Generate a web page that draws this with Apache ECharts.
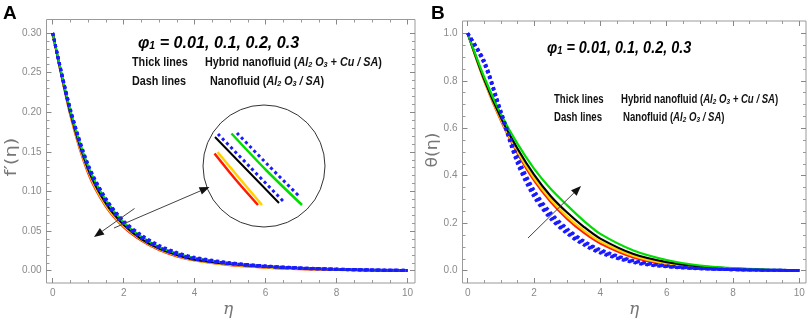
<!DOCTYPE html>
<html>
<head>
<meta charset="utf-8">
<script src="https://cdn.jsdelivr.net/npm/echarts@6/dist/echarts.min.js"></script>
<style>html,body{margin:0;padding:0;background:#fff}#main{width:809px;height:322px}</style>
</head>
<body>
<div id="main"></div>
<script>
// eta grid shared by both panels
var eta = [0, 0.5, 1, 1.5, 2, 2.5, 3, 3.5, 4, 5, 6, 7, 8, 9, 10];

// panel A : f'(eta), thick lines (hybrid) and dashed (nanofluid)
var fRed    = [0.30, 0.196, 0.123, 0.081, 0.055, 0.038, 0.026, 0.018, 0.013, 0.0070, 0.0040, 0.0020, 0.0010, 0.0005, 0.0002];
var fYellow = [0.30, 0.197, 0.125, 0.082, 0.056, 0.039, 0.027, 0.019, 0.013, 0.0075, 0.0042, 0.0023, 0.0012, 0.0006, 0.0003];
var fBlack  = [0.30, 0.199, 0.128, 0.085, 0.058, 0.040, 0.028, 0.020, 0.014, 0.0085, 0.0050, 0.0030, 0.0015, 0.0007, 0.0003];
var fGreen  = [0.30, 0.202, 0.132, 0.089, 0.061, 0.043, 0.030, 0.022, 0.016, 0.0095, 0.0056, 0.0033, 0.0018, 0.0009, 0.0004];
var fBlue1  = [0.30, 0.200, 0.129, 0.086, 0.059, 0.041, 0.029, 0.020, 0.0145, 0.0088, 0.0052, 0.0030, 0.0016, 0.0008, 0.0003];
var fBlue2  = [0.30, 0.201, 0.130, 0.087, 0.060, 0.042, 0.029, 0.021, 0.015, 0.0090, 0.0054, 0.0031, 0.0017, 0.0008, 0.0003];
var fBlue3  = [0.30, 0.203, 0.133, 0.090, 0.062, 0.044, 0.031, 0.022, 0.016, 0.0098, 0.0058, 0.0034, 0.0019, 0.0009, 0.0004];
var fBlue4  = [0.30, 0.204, 0.134, 0.091, 0.063, 0.045, 0.032, 0.023, 0.017, 0.0100, 0.0060, 0.0035, 0.0020, 0.0010, 0.0004];

// panel B : theta(eta)
var tRed    = [1.0, 0.800, 0.632, 0.495, 0.380, 0.290, 0.218, 0.160, 0.115, 0.056, 0.027, 0.013, 0.006, 0.003, 0.001];
var tYellow = [1.0, 0.800, 0.637, 0.502, 0.390, 0.300, 0.228, 0.170, 0.123, 0.062, 0.030, 0.015, 0.007, 0.003, 0.001];
var tBlack  = [1.0, 0.805, 0.645, 0.515, 0.405, 0.315, 0.245, 0.185, 0.135, 0.070, 0.036, 0.018, 0.009, 0.004, 0.001];
var tGreen  = [1.0, 0.815, 0.660, 0.535, 0.430, 0.345, 0.275, 0.210, 0.155, 0.085, 0.045, 0.022, 0.011, 0.005, 0.002];
var tBlue1  = [1.0, 0.870, 0.660, 0.450, 0.310, 0.218, 0.155, 0.108, 0.074, 0.034, 0.016, 0.008, 0.004, 0.002, 0.001];
var tBlue2  = [1.0, 0.875, 0.665, 0.460, 0.320, 0.226, 0.162, 0.114, 0.079, 0.037, 0.018, 0.009, 0.004, 0.002, 0.001];
var tBlue3  = [1.0, 0.880, 0.670, 0.470, 0.330, 0.235, 0.170, 0.120, 0.084, 0.040, 0.019, 0.009, 0.005, 0.002, 0.001];
var tBlue4  = [1.0, 0.885, 0.675, 0.480, 0.340, 0.245, 0.178, 0.126, 0.089, 0.043, 0.021, 0.010, 0.005, 0.002, 0.001];

var phiText = '0.01, 0.1, 0.2, 0.3';

var RED = '#ff1a00', YEL = '#ffd200', BLK = '#000000', GRN = '#00dd00', BLU = '#1a1aff';
var FONT = 'Liberation Sans, Arial, sans-serif';
var GRAY = '#8a8a8a';

var chart = echarts.init(document.getElementById('main'));

function pairs(ys) {
  return eta.map(function (x, i) { return [x, ys[i]]; });
}
function thick(name, ys, color, ax) {
  return {
    name: name, type: 'line', data: pairs(ys), xAxisIndex: ax, yAxisIndex: ax,
    smooth: 0.3, showSymbol: false, clip: false, silent: true,
    lineStyle: { color: color, width: 2.2 }, z: 2
  };
}
function dash(name, ys, ax) {
  return {
    name: name, type: 'line', data: pairs(ys), xAxisIndex: ax, yAxisIndex: ax,
    smooth: 0.3, showSymbol: false, clip: false, silent: true,
    lineStyle: { color: BLU, width: 3, type: [3, 3], cap: 'butt' }, z: 3
  };
}

function xAx(grid, pos, off, labels) {
  return {
    type: 'value', gridIndex: grid, position: pos, offset: off,
    min: 0, max: 10, interval: 2,
    axisLine: { show: false, onZero: false },
    axisTick: { show: true, inside: true, length: 5, lineStyle: { color: '#888' } },
    minorTick: { show: true, splitNumber: 4, length: 3, lineStyle: { color: '#999' } },
    splitLine: { show: false },
    axisLabel: { show: labels, color: GRAY, fontSize: 10, fontFamily: FONT, margin: 5 }
  };
}
function yAx(grid, pos, off, labels, max, step, minor, digits) {
  return {
    type: 'value', gridIndex: grid, position: pos, offset: off,
    min: 0, max: max, interval: step,
    axisLine: { show: false, onZero: false },
    axisTick: { show: true, inside: true, length: 5, lineStyle: { color: '#888' } },
    minorTick: { show: true, splitNumber: minor, length: 3, lineStyle: { color: '#999' } },
    splitLine: { show: false },
    axisLabel: {
      show: labels, color: GRAY, fontSize: 10, fontFamily: FONT, margin: 5,
      formatter: function (v) { return v.toFixed(digits); }
    }
  };
}

function arrow(x1, y1, x2, y2) {
  var dx = x2 - x1, dy = y2 - y1, L = Math.sqrt(dx * dx + dy * dy);
  var ux = dx / L, uy = dy / L, hl = 10, hw = 4;
  var bx = x2 - ux * hl, by = y2 - uy * hl;
  return [
    { type: 'line', shape: { x1: x1, y1: y1, x2: bx, y2: by }, style: { stroke: '#444', lineWidth: 1 }, z: 10 },
    { type: 'polygon', shape: { points: [[x2, y2], [bx - uy * hw, by + ux * hw], [bx + uy * hw, by - ux * hw]] },
      style: { fill: '#111' }, z: 10 }
  ];
}

var rich = {
  b: { fontFamily: FONT, fontWeight: 'bold', fontSize: 12, fill: '#111' },
  i: { fontFamily: FONT, fontWeight: 'bold', fontStyle: 'italic', fontSize: 12, fill: '#111' },
  s: { fontFamily: FONT, fontWeight: 'bold', fontStyle: 'italic', fontSize: 8, fill: '#111', verticalAlign: 'bottom' },
  p: { fontFamily: FONT, fontWeight: 'bold', fontStyle: 'italic', fontSize: 17, fill: '#000' },
  ps: { fontFamily: FONT, fontWeight: 'bold', fontStyle: 'italic', fontSize: 11, fill: '#000', verticalAlign: 'bottom' }
};
function txt(x, y, s, sx) {
  return { type: 'text', x: x, y: y, scaleX: sx, z: 10,
    style: { text: s, rich: rich, align: 'left', verticalAlign: 'middle' } };
}
var hybrid = '{b|Hybrid nanofluid (}{i|Al}{s|2}{i| O}{s|3}{i| + Cu / SA}{b|)}';
var nano = '{b|Nanofluid (}{i|Al}{s|2}{i| O}{s|3}{i| / SA}{b|)}';
var phi = '{p|\u03c6}{ps|1}{p| = ' + phiText + '}';

function inset(pts, color, w, dashed) {
  return { type: 'polyline', shape: { points: pts, smooth: 0.3 }, z: 9,
    style: { stroke: color, lineWidth: w, fill: null, lineDash: dashed ? [3, 3] : null } };
}

var graphics = [
  { type: 'rect', shape: { x: 46.5, y: 19.5, width: 368.5, height: 263.5 }, style: { stroke: '#9a9a9a', fill: null, lineWidth: 1 } },
  { type: 'rect', shape: { x: 462.5, y: 21, width: 343.5, height: 262 }, style: { stroke: '#9a9a9a', fill: null, lineWidth: 1 } },
  { type: 'text', x: 3, y: 4, style: { text: 'A', font: 'bold 19px ' + FONT, fill: '#000' } },
  { type: 'text', x: 431, y: 4, style: { text: 'B', font: 'bold 19px ' + FONT, fill: '#000' } },
  { type: 'text', x: 12, y: 157, rotation: Math.PI / 2, scaleX: 1.3, style: { text: 'f\u2032(\u03b7)', font: '15px DejaVu Sans', fill: '#777', align: 'center', verticalAlign: 'middle' } },
  { type: 'text', x: 433, y: 150, rotation: Math.PI / 2, scaleX: 1.15, style: { text: '\u03b8(\u03b7)', font: '15px DejaVu Sans', fill: '#777', align: 'center', verticalAlign: 'middle' } },
  { type: 'text', x: 228, y: 310, style: { text: '\u03b7', font: 'italic 17px DejaVu Serif', fill: '#777', align: 'center', verticalAlign: 'middle' } },
  { type: 'text', x: 634, y: 310, style: { text: '\u03b7', font: 'italic 17px DejaVu Serif', fill: '#777', align: 'center', verticalAlign: 'middle' } },
  txt(138, 43, phi, 0.95),
  txt(132, 63, '{b|Thick lines}', 0.9),
  txt(205, 63, hybrid, 0.9),
  txt(132, 82, '{b|Dash lines}', 0.9),
  txt(210, 82, nano, 0.9),
  txt(547, 48, phi, 0.85),
  txt(554, 100, '{b|Thick lines}', 0.8),
  txt(621, 100, hybrid, 0.8),
  txt(554, 118, '{b|Dash lines}', 0.8),
  txt(623, 118, nano, 0.8),
  // magnifier inset
  { type: 'circle', shape: { cx: 264, cy: 166, r: 61 }, style: { stroke: '#333', fill: '#fff', lineWidth: 1 }, z: 8 },
  inset([[214.5, 153.5], [236, 180], [258, 205]], RED, 2.5),
  inset([[217.5, 152], [240, 179], [262, 205]], YEL, 2.5),
  inset([[215, 137], [247, 170], [279, 203]], BLK, 2),
  inset([[218, 134], [250, 167], [283, 201]], BLU, 3, true),
  inset([[231.5, 133.5], [266, 170], [302, 205]], GRN, 2.5),
  inset([[237, 133], [268, 165], [300, 197]], BLU, 3, true)
].concat(arrow(134.5, 208.5, 94, 237), arrow(114, 228, 209.5, 187), arrow(528, 238, 581, 186));

var option = {
  backgroundColor: '#fff',
  animation: false,
  grid: [
    { left: 52.7, right: 401.5, top: 33, bottom: 51.3 },
    { left: 467.7, right: 9.7, top: 33.3, bottom: 51.3 }
  ],
  xAxis: [
    xAx(0, 'bottom', 12.3, true),
    xAx(1, 'bottom', 12.3, true),
    xAx(0, 'top', 13.5, false),
    xAx(1, 'top', 12.3, false)
  ],
  yAxis: [
    yAx(0, 'left', 6.2, true, 0.30, 0.05, 5, 2),
    yAx(1, 'left', 5.2, true, 1.0, 0.2, 4, 1),
    yAx(0, 'right', 7.5, false, 0.30, 0.05, 5, 2),
    yAx(1, 'right', 6.7, false, 1.0, 0.2, 4, 1)
  ],
  graphic: graphics,
  series: [
    thick('red A', fRed, RED, 0), thick('yellow A', fYellow, YEL, 0),
    thick('black A', fBlack, BLK, 0), thick('green A', fGreen, GRN, 0),
    dash('blue A1', fBlue1, 0), dash('blue A2', fBlue2, 0), dash('blue A3', fBlue3, 0), dash('blue A4', fBlue4, 0),
    thick('red B', tRed, RED, 1), thick('yellow B', tYellow, YEL, 1),
    thick('black B', tBlack, BLK, 1), thick('green B', tGreen, GRN, 1),
    dash('blue B1', tBlue1, 1), dash('blue B2', tBlue2, 1), dash('blue B3', tBlue3, 1), dash('blue B4', tBlue4, 1)
  ]
};
chart.setOption(option);
</script>
</body>
</html>
